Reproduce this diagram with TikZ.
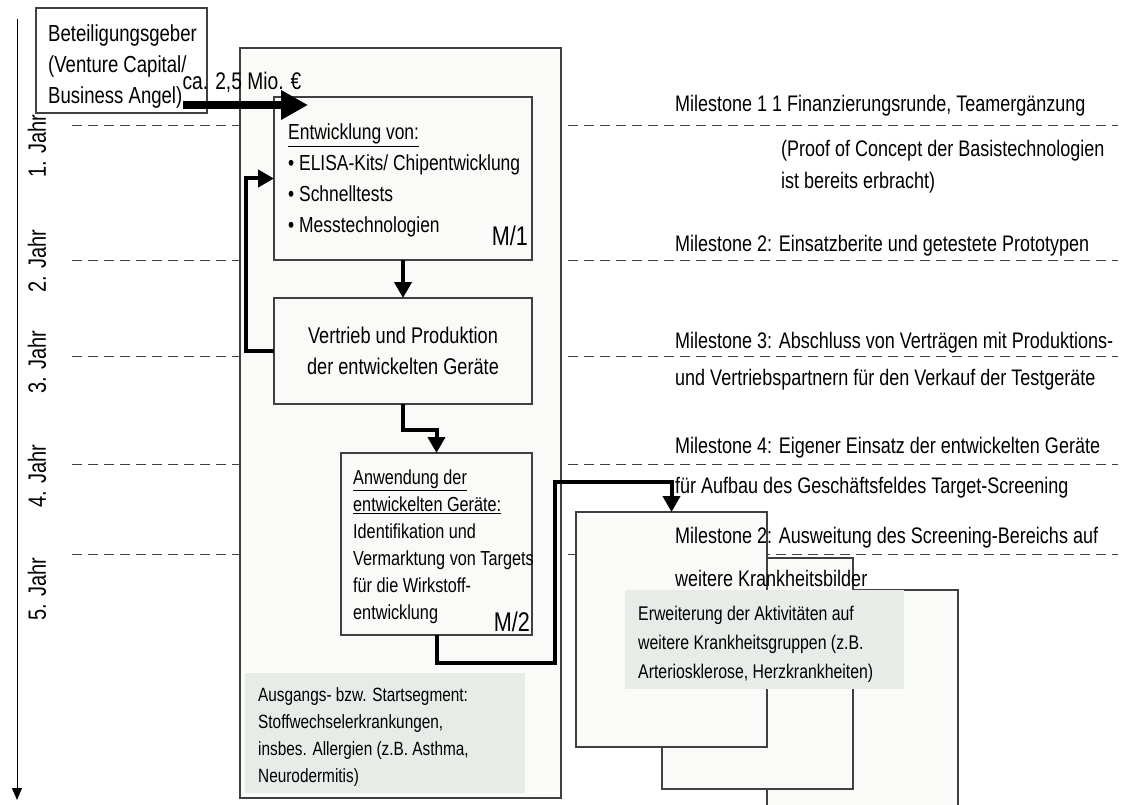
\documentclass[tikz,border=0pt]{standalone}
\usepackage{fontspec}
\setmainfont[FakeStretch=0.8]{Liberation Sans}
\usetikzlibrary{arrows.meta,positioning}
\definecolor{boxfill}{HTML}{FAFAF8}
\definecolor{notefill}{HTML}{E8ECE8}
\definecolor{rulegray}{HTML}{404040}
\newcommand{\fsz}[2]{\fontsize{#1}{#2}\selectfont}
\tikzset{
  frame/.style={draw=rulegray, line width=1.2pt, fill=boxfill, inner sep=0pt, outer sep=0pt, anchor=north west},
  note/.style={fill=notefill, inner sep=0pt, outer sep=0pt, anchor=north west},
  txt/.style={inner sep=0pt, align=left, font=\fsz{22.5}{27}},
  flow/.style={line width=4pt, -{Triangle[length=16pt,width=17pt]}},
  yearline/.style={draw=rulegray, line width=1pt, dash pattern=on 10pt off 6pt},
}
\begin{document}
\begin{tikzpicture}[x=1pt, y=-1pt]
    \useasboundingbox (0,0) rectangle (1127,805);

    % --- time axis ---
    \coordinate (axtop) at (17,19);
    \coordinate (axend) at (17,800);
    \draw[line width=1pt, -{Triangle[length=12pt,width=10pt]}] (axtop) -- (axend);
    \foreach \yr/\yc in {1/146, 2/261, 3/362, 4/476, 5/589}
        \node[txt, rotate=90, font=\fsz{25}{30}] (year\yr) at (37,\yc) {\yr. Jahr};

    % --- milestone lines ---
    \foreach \my in {126,260,356,464,554}
        \draw[yearline] (72,\my) -- (1118,\my);

    % --- investor and funding ---
    \node[frame, fill=white, minimum width=171, minimum height=105] (investor) at (36,8) {};
    \node[txt, anchor=north west, font=\fsz{23.2}{31}] (investortxt) at (48,24) {Beteiligungsgeber\\(Venture Capital/\\Business Angel)};

    % --- start segment ---
    \node[frame, minimum width=321, minimum height=750] (seg) at (240,48) {};
    \node[note, minimum width=280, minimum height=120] (startseg) at (245,673) {};
    \node[txt, anchor=north west, font=\fsz{19.2}{27}] (startsegtxt) at (258,687) {Ausgangs- bzw. Startsegment:\\Stoffwechselerkrankungen,\\insbes. Allergien (z.B. Asthma,\\Neurodermitis)};

    \node[frame, minimum width=258, minimum height=163] (dev) at (274,97) {};
    \node[txt, anchor=north west, font=\fsz{21.8}{31}] (devtxt) at (288,124) {\underline{Entwicklung von:}\\• ELISA-Kits/ Chipentwicklung\\• Schnelltests\\• Messtechnologien};
    \node[txt, anchor=base east, font=\fsz{27}{30}] (devtag) at (528,245) {M/1};

    \node[frame, minimum width=258, minimum height=106] (prod) at (274,298) {};
    \node[txt, align=center, font=\fsz{22.7}{31}] (prodtxt) at (prod.center) {Vertrieb und Produktion\\der entwickelten Geräte};

    \node[frame, minimum width=191, minimum height=182] (appl) at (341,453) {};
    \node[txt, anchor=north west, font=\fsz{20.3}{27}] (appltxt) at (353,470) {\underline{Anwendung der}\\\underline{entwickelten Geräte:}\\Identifikation und\\Vermarktung von Targets\\für die Wirkstoff-\\entwicklung};
    \node[txt, anchor=base east, font=\fsz{27}{30}] (appltag) at (530,631) {M/2};

    % --- screening segments ---
    \node[frame, minimum width=191, minimum height=240] (scrC) at (767,590) {};
    \node[frame, minimum width=191, minimum height=231] (scrB) at (662,558) {};
    \node[frame, minimum width=191, minimum height=235] (scrA) at (576,512) {};
    \node[note, minimum width=279, minimum height=99] (expand) at (625,590) {};
    \node[txt, anchor=north west, font=\fsz{19.8}{29}] (expandtxt) at (638,606) {Erweiterung der Aktivitäten auf\\weitere Krankheitsgruppen (z.B.\\Arteriosklerose, Herzkrankheiten)};

    % --- arrows ---
    \coordinate (fundfrom) at (183,105);
    \coordinate (fundto) at (308,105);
    \draw[line width=8pt, -{Triangle[length=27pt,width=28pt]}] (fundfrom) -- (fundto);
    \node[txt, font=\fsz{24}{28}] (amount) at (242,82) {ca. 2,5 Mio. €};

    \draw[flow] (dev.south) -- (prod.north);
    \draw[flow] (prod.west) -- ++(-28,0) |- (dev.west);
    \draw[flow] (prod.south) -- ++(0,26) -| (appl.north);
    \coordinate (jog) at (555,482);
    \draw[flow] (appl.south) -- ++(0,28) -| (jog) -| (scrA.north);

    % --- milestones ---
    \node[txt, anchor=west] (ms1) at (675,106) {Milestone 1 1 Finanzierungsrunde, Teamergänzung};
    \node[txt, anchor=north west, font=\fsz{22.5}{32}] (ms1b) at (781,140) {(Proof of Concept der Basistechnologien\\ist bereits erbracht)};
    \node[txt, anchor=west] (ms2) at (675,246) {Milestone 2: Einsatzberite und getestete Prototypen};
    \node[txt, anchor=west] (ms3) at (675,343) {Milestone 3: Abschluss von Verträgen mit Produktions-};
    \node[txt, anchor=west] (ms3b) at (675,380) {und Vertriebspartnern für den Verkauf der Testgeräte};
    \node[txt, anchor=west] (ms4) at (675,448) {Milestone 4: Eigener Einsatz der entwickelten Geräte};
    \node[txt, anchor=west] (ms4b) at (675,488) {für Aufbau des Geschäftsfeldes Target-Screening};
    \node[txt, anchor=west] (ms5) at (675,538) {Milestone 2: Ausweitung des Screening-Bereichs auf};
    \node[txt, anchor=west] (ms5b) at (675,578) {weitere Krankheitsbilder};
\end{tikzpicture}
\end{document}
